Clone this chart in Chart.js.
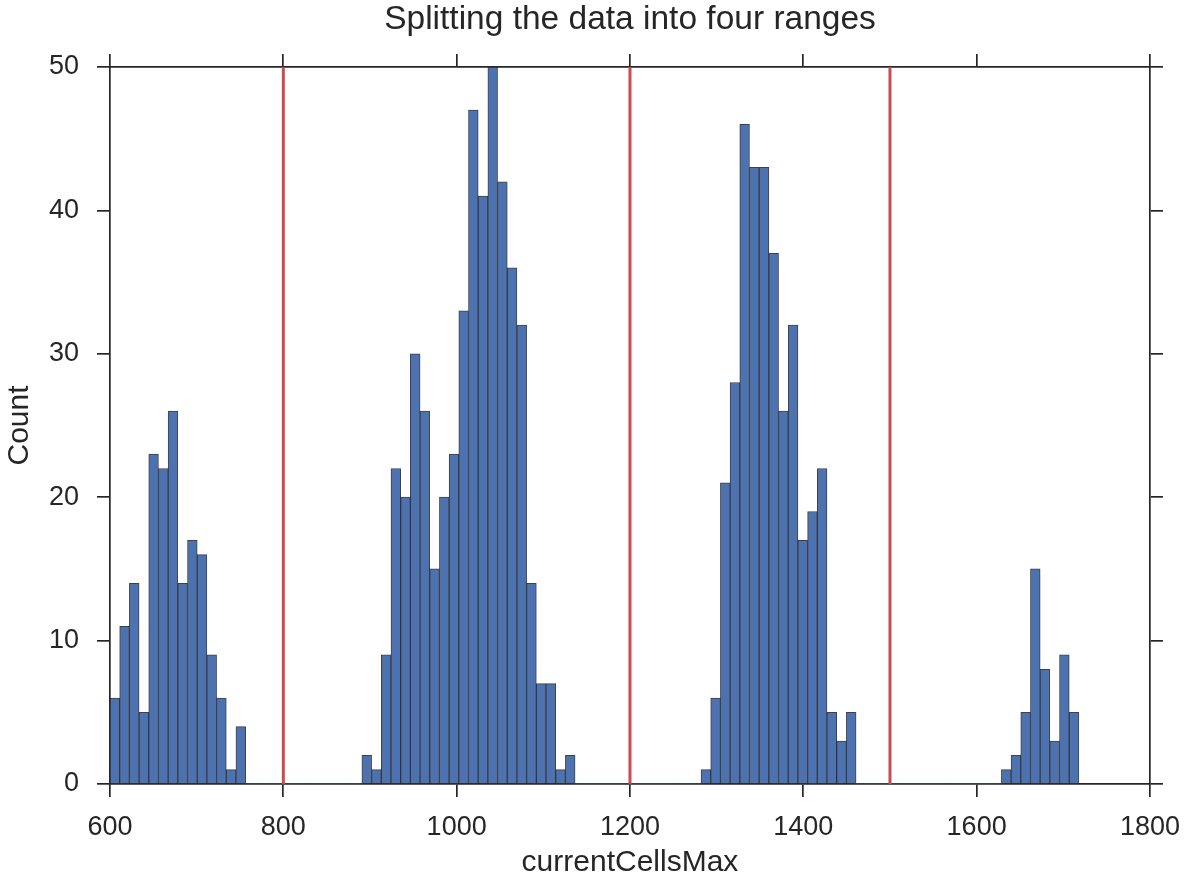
<!DOCTYPE html>
<html>
<head>
<meta charset="utf-8">
<title>Splitting the data into four ranges</title>
<script src="https://cdn.jsdelivr.net/npm/chart.js@4.4.1/dist/chart.umd.min.js"></script>
<style>
    html, body { margin: 0; padding: 0; background: #ffffff; }
    #wrap { width: 1194px; height: 881px; }
</style>
</head>
<body>
<div id="wrap"><canvas id="histChart" width="1194" height="881"></canvas></div>
<script>
// histogram of currentCellsMax, 100 bins
const binStart = 600;
const binWidth = 11.18;
const counts = [
    6, 11, 14, 5, 23, 22, 26, 14, 17, 16, 9, 6, 1, 4,
    0, 0, 0, 0, 0, 0, 0, 0, 0, 0, 0, 0,
    2, 1, 9, 22, 20, 30, 26, 15, 20, 23, 33, 47, 41, 50, 42, 36, 32, 14, 7, 7, 1, 2,
    0, 0, 0, 0, 0, 0, 0, 0, 0, 0, 0, 0, 0,
    1, 6, 21, 28, 46, 43, 43, 37, 26, 32, 17, 19, 22, 5, 3, 5,
    0, 0, 0, 0, 0, 0, 0, 0, 0, 0, 0, 0, 0, 0, 0,
    1, 2, 5, 15, 8, 3, 9, 5
];
// range boundaries
const splits = [800, 1200, 1500];
const xTicks = [600, 800, 1000, 1200, 1400, 1600, 1800];
const yTicks = [0, 10, 20, 30, 40, 50];

const ink = '#262626';
const fontFamily = "'Liberation Sans', Arial, Helvetica, sans-serif";

const barData = counts.map((c, i) => ({ x: binStart + binWidth * (i + 0.5), y: c }));

const datasets = [{
    type: 'bar',
    data: barData,
    backgroundColor: '#4c72b0',
    borderColor: 'rgba(30, 30, 40, 0.85)',
    borderWidth: ctx => (ctx.raw && ctx.raw.y > 0 ? 1 : 0),
    borderSkipped: 'start',
    barPercentage: 1,
    categoryPercentage: 1,
    order: 2
}];
splits.forEach(s => {
    datasets.push({
        type: 'line',
        data: [{ x: s, y: yTicks[0] }, { x: s, y: yTicks[yTicks.length - 1] }],
        borderColor: '#cc4a52',
        borderWidth: 3,
        pointRadius: 0,
        fill: false,
        order: 1
    });
});

function fixedTicks(values) {
    return scale => { scale.ticks = values.map(v => ({ value: v })); };
}

const tickGrid = { drawOnChartArea: false, drawTicks: true, tickLength: 13, color: ink, lineWidth: 1.7, offset: false };
const frame = { display: true, color: ink, width: 1.7 };

new Chart(document.getElementById('histChart'), {
    data: { datasets: datasets },
    options: {
        responsive: false,
        animation: false,
        layout: { padding: 0 },
        plugins: {
            legend: { display: false },
            tooltip: { enabled: false },
            title: { display: false }
        },
        scales: {
            x: {
                type: 'linear',
                position: 'bottom',
                offset: false,
                min: xTicks[0],
                max: xTicks[xTicks.length - 1],
                afterBuildTicks: fixedTicks(xTicks),
                afterFit: s => { s.height = 97; },
                grid: tickGrid,
                border: frame,
                ticks: {
                    color: ink, padding: 14,
                    font: { family: fontFamily, size: 27 },
                    callback: v => String(v)
                },
                title: {
                    display: true,
                    text: 'currentCellsMax',
                    color: ink,
                    font: { family: fontFamily, size: 30 },
                    padding: { top: 0, bottom: 0 }
                }
            },
            y: {
                type: 'linear',
                position: 'left',
                min: yTicks[0],
                max: yTicks[yTicks.length - 1],
                afterBuildTicks: fixedTicks(yTicks),
                afterFit: s => { s.width = 110; },
                grid: tickGrid,
                border: frame,
                ticks: { color: ink, padding: 18, font: { family: fontFamily, size: 27 } },
                title: {
                    display: true,
                    text: 'Count',
                    color: ink,
                    font: { family: fontFamily, size: 30 },
                    padding: { top: 2, bottom: 0 }
                }
            },
            // top frame edge, carries the chart title so it centres over the plot
            x2: {
                type: 'linear',
                position: 'top',
                offset: false,
                min: xTicks[0],
                max: xTicks[xTicks.length - 1],
                afterBuildTicks: fixedTicks(xTicks),
                afterFit: s => { s.height = 67; },
                grid: tickGrid,
                border: frame,
                ticks: { display: false },
                title: {
                    display: true,
                    text: 'Splitting the data into four ranges',
                    color: ink,
                    font: { family: fontFamily, size: 33.5 },
                    padding: { top: 0, bottom: 0 }
                }
            },
            y2: {
                type: 'linear',
                position: 'right',
                min: yTicks[0],
                max: yTicks[yTicks.length - 1],
                afterBuildTicks: fixedTicks(yTicks),
                afterFit: s => { s.width = 41; },
                grid: tickGrid,
                border: frame,
                ticks: { display: false }
            }
        }
    }
});
</script>
</body>
</html>
